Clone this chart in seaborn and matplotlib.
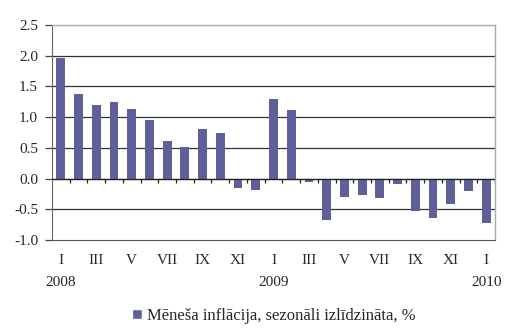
import matplotlib
matplotlib.use("Agg")
import matplotlib.pyplot as plt
from matplotlib.patches import Patch
import seaborn as sns
import pandas as pd
import numpy as np

months = ["I", "II", "III", "IV", "V", "VI", "VII", "VIII", "IX", "X", "XI", "XII",
          "I", "II", "III", "IV", "V", "VI", "VII", "VIII", "IX", "X", "XI", "XII", "I"]
years = ["2008"] * 12 + ["2009"] * 12 + ["2010"]
values = [1.97, 1.37, 1.19, 1.25, 1.14, 0.95, 0.61, 0.51, 0.80, 0.75, -0.16, -0.18,
          1.29, 1.12, -0.05, -0.67, -0.30, -0.26, -0.31, -0.09, -0.52, -0.64, -0.42, -0.20, -0.73]
series_name = "Mēneša inflācija, sezonāli izlīdzināta, %"
yticks = [-1.0, -0.5, 0.0, 0.5, 1.0, 1.5, 2.0, 2.5]

df = pd.DataFrame({"idx": list(range(len(values))), "value": values,
                   "month": months, "year": years})

sns.set_style("white")
plt.rcParams["font.family"] = ["Liberation Serif", "DejaVu Serif"]

bar_color = "#5F5F99"
fig = plt.figure(figsize=(5.07, 3.35), dpi=100)
ax = fig.add_axes([52 / 507, 1 - 240 / 335, 443 / 507, 215 / 335])

sns.barplot(data=df, x="idx", y="value", color=bar_color, width=0.5,
            saturation=1, ax=ax, edgecolor="none")

n = len(values)
ax.set_xlim(-0.5, n - 0.5)
ax.set_ylim(-1.0, 2.5)
ax.set_yticks(yticks)
ax.set_yticklabels([f"{t:.1f}" for t in yticks], fontsize=11)
for t in yticks[1:-1]:
    ax.axhline(t, color="#333333", lw=0.9, zorder=0)
ax.axhline(0, color="#222222", lw=0.9, zorder=3)

# tick marks between categories at zero line
bounds = np.arange(0.5, n - 0.5 + 0.01, 1.0)
ax.vlines(bounds, -0.07, 0, color="#222222", lw=0.9, zorder=3)

# x labels: every other month
lbl_pos = list(range(0, n, 2))
ax.set_xticks(lbl_pos)
ax.set_xticklabels([months[i] for i in lbl_pos], fontsize=11)
ax.tick_params(axis="x", length=0, pad=10)
ax.tick_params(axis="y", length=5, width=0.9, color="#444444", direction="out",
               left=True, pad=5)
ax.set_xlabel("")
ax.set_ylabel("")

for i, y in enumerate(years):
    if i == 0 or years[i] != years[i - 1]:
        ax.text(i, -0.20, y, transform=ax.get_xaxis_transform(),
                ha="center", va="center", fontsize=11)

for s in ["top", "right"]:
    ax.spines[s].set_color("#AAAAAA")
    ax.spines[s].set_linewidth(1.0)
ax.spines["left"].set_color("#666666")
ax.spines["bottom"].set_color("#555555")
for s in ax.spines.values():
    s.set_visible(True)

fig.legend(handles=[Patch(facecolor=bar_color, label=series_name)],
           loc="center", bbox_to_anchor=(0.54, 1 - 316 / 335), frameon=False,
           fontsize=12, handlelength=0.6, handleheight=0.6, handletextpad=0.3)

fig.savefig("out.png", dpi=100)
